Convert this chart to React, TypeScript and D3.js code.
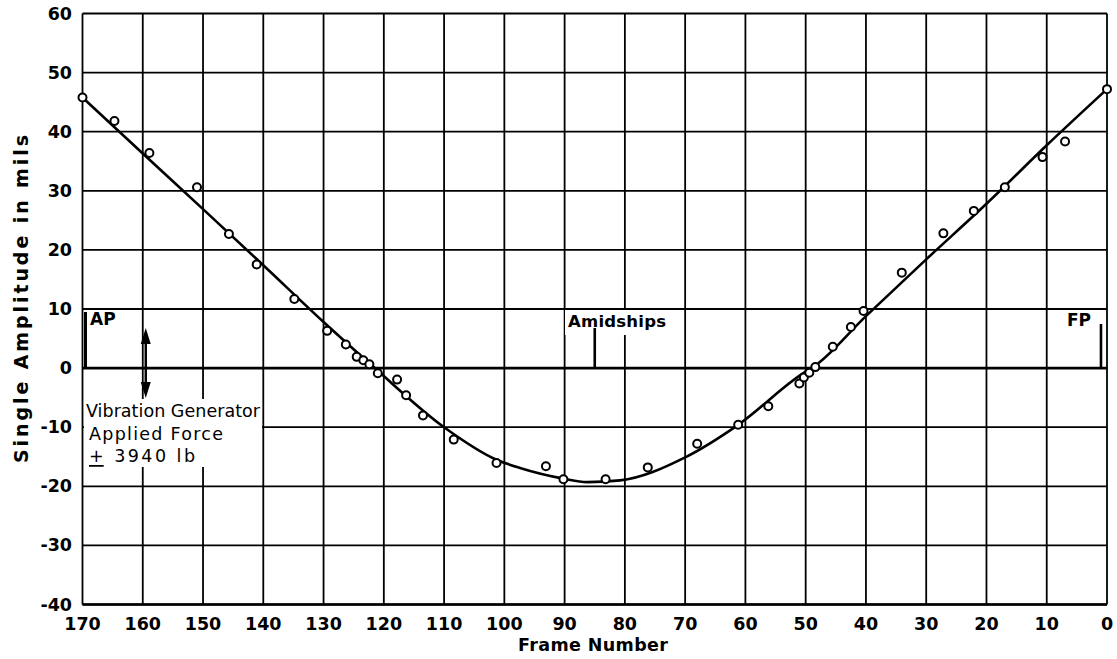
import React from "react";
import * as d3 from "d3";

const frameTicks = [170, 160, 150, 140, 130, 120, 110, 100, 90, 80, 70, 60, 50, 40, 30, 20, 10, 0];
const amplitudeTicks = [60, 50, 40, 30, 20, 10, 0, -10, -20, -30, -40];

// measured points
const frames = [170, 164.7, 158.9, 151, 145.7, 141.1, 134.85, 129.4, 126.3, 124.5, 123.4, 122.4, 121, 117.8, 116.3, 113.5, 108.4, 101.3, 93.1, 90.2, 83.2, 76.2, 68.0, 61.2, 56.2, 51.05, 50.3, 49.4, 48.4, 45.5, 42.5, 40.4, 34.05, 27.15, 22.1, 16.95, 10.7, 6.96, 0];
const amplitudes = [45.8, 41.8, 36.4, 30.6, 22.7, 17.55, 11.7, 6.3, 4.0, 1.9, 1.33, 0.64, -0.86, -1.95, -4.6, -8.0, -12.1, -16.05, -16.6, -18.8, -18.8, -16.8, -12.8, -9.6, -6.45, -2.6, -1.6, -0.8, 0.17, 3.6, 6.95, 9.65, 16.15, 22.8, 26.6, 30.6, 35.7, 38.35, 47.2];

// faired curve
const curveFrames = [170, 160, 150, 140, 130, 121.5, 110, 101.3, 97.4, 90.2, 86.3, 80.8, 70, 61.2, 50, 49, 40, 30, 20, 10, 0];
const curveAmps = [45.8, 36.3, 26.9, 17.4, 7.8, 0, -10, -15.5, -16.9, -18.7, -19.3, -19.0, -15.1, -9.6, -0.6, 0, 8.8, 18.4, 27.8, 37.7, 47.2];

const markerFrames = { AP: 169.5, Amidships: 85, FP: 1 };

const W = 1117;
const H = 659;
const FONT = "'DejaVu Sans', sans-serif";

export default function App() {
  const x = d3.scaleLinear().domain([170, 0]).range([82.5, 1107]);
  const y = d3.scaleLinear().domain([-40, 60]).range([604.5, 13.5]);

  const curvePts: [number, number][] = curveFrames.map((f, i) => [x(f), y(curveAmps[i])]);
  const curvePath = d3.line().curve(d3.curveMonotoneX)(curvePts) || "";

  const x0 = x(170), x1 = x(0), yTop = y(60), yBot = y(-40);
  const ax = x(159.5);
  const topTip = 328, botTip = 398, headLen = 16, headHalf = 5;

  return (
    <svg width={W} height={H} style={{ position: "absolute", left: 0, top: 0, background: "#fff" }} fontFamily={FONT}>
      <rect x={0} y={0} width={W} height={H} fill="#fff" />
      {/* grid */}
      {frameTicks.map((f) => (
        <line key={"vx" + f} x1={x(f)} x2={x(f)} y1={yTop} y2={yBot} stroke="#000" strokeWidth={1.8} />
      ))}
      {amplitudeTicks.map((a) => (
        <line key={"hy" + a} x1={x0} x2={x1} y1={y(a)} y2={y(a)} stroke="#000" strokeWidth={a === 0 ? 2.8 : 1.8} />
      ))}
      <line x1={x0} x2={x1} y1={yBot} y2={yBot} stroke="#000" strokeWidth={2.6} />

      {/* white label boxes */}
      <rect x={x0 + 1.5} y={399} width={178} height={68} fill="#fff" />
      <rect x={565} y={310} width={105} height={25} fill="#fff" />
      <rect x={1063} y={310} width={36} height={20} fill="#fff" />

      {/* y tick labels */}
      {amplitudeTicks.map((a) => (
        <text key={"yl" + a} x={72} y={y(a)} textAnchor="end" dominantBaseline="central" fontSize={17.5} fontWeight="bold">
          {a}
        </text>
      ))}
      {/* x tick labels */}
      {frameTicks.map((f) => (
        <text key={"xl" + f} x={x(f)} y={624} textAnchor="middle" dominantBaseline="central" fontSize={17.5} fontWeight="bold">
          {f}
        </text>
      ))}
      <text x={518} y={645} dominantBaseline="central" fontSize={17.5} fontWeight="bold" textLength={150} lengthAdjust="spacing">
        Frame Number
      </text>
      <text transform={`translate(21,463) rotate(-90)`} dominantBaseline="central" fontSize={19} fontWeight="bold" textLength={328} lengthAdjust="spacing">
        Single Amplitude in mils
      </text>

      {/* markers AP, Amidships, FP */}
      <line x1={x(markerFrames.AP)} x2={x(markerFrames.AP)} y1={y(0)} y2={312} stroke="#000" strokeWidth={3} />
      <text x={90} y={319} dominantBaseline="central" fontSize={17} fontWeight="bold">AP</text>
      <line x1={x(markerFrames.Amidships)} x2={x(markerFrames.Amidships)} y1={y(0)} y2={328} stroke="#000" strokeWidth={2.6} />
      <text x={568} y={321} dominantBaseline="central" fontSize={16.5} fontWeight="bold" textLength={98} lengthAdjust="spacing">Amidships</text>
      <line x1={x(markerFrames.FP)} x2={x(markerFrames.FP)} y1={y(0)} y2={324} stroke="#000" strokeWidth={2.6} />
      <text x={1067} y={320} dominantBaseline="central" fontSize={17} fontWeight="bold">FP</text>

      {/* vibration generator arrow */}
      <line x1={ax} x2={ax} y1={topTip + headLen - 2} y2={botTip - headLen + 2} stroke="#000" strokeWidth={2.5} />
      <path d={`M${ax - headHalf},${topTip + headLen} L${ax},${topTip} L${ax + headHalf},${topTip + headLen} Z`} fill="#000" />
      <path d={`M${ax - headHalf},${botTip - headLen} L${ax},${botTip} L${ax + headHalf},${botTip - headLen} Z`} fill="#000" />
      <text x={86} y={411} dominantBaseline="central" fontSize={17.5} textLength={174} lengthAdjust="spacing">Vibration Generator</text>
      <text x={89} y={434} dominantBaseline="central" fontSize={17.5} textLength={134} lengthAdjust="spacing">Applied Force</text>
      <text x={89} y={456} dominantBaseline="central" fontSize={17.5} textLength={106} lengthAdjust="spacing">
        <tspan textDecoration="underline">+</tspan> 3940 lb
      </text>

      {/* curve */}
      <path d={curvePath} fill="none" stroke="#000" strokeWidth={2.6} />

      {/* points */}
      {frames.map((f, i) => (
        <circle key={"p" + i} cx={x(f)} cy={y(amplitudes[i])} r={4} fill="#fff" stroke="#000" strokeWidth={2} />
      ))}
    </svg>
  );
}
